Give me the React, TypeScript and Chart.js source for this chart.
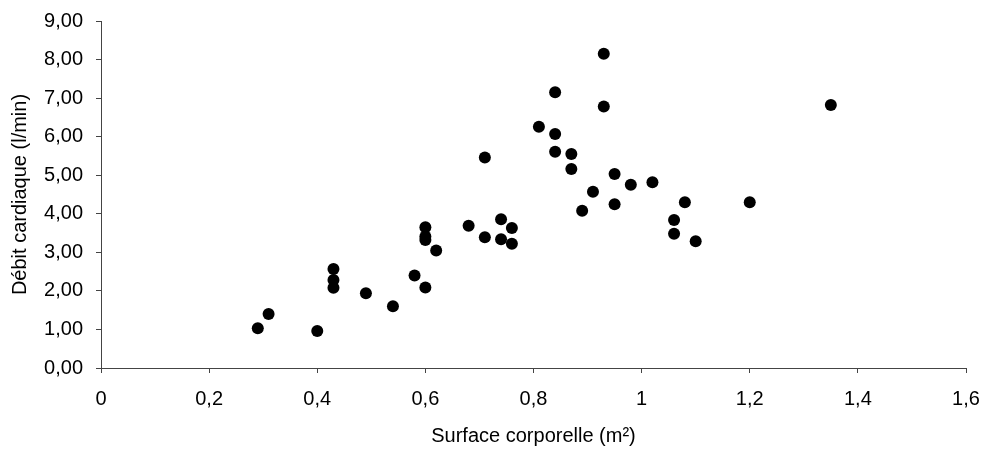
import React, { useEffect, useRef } from "react";
import { Chart, registerables } from "chart.js";

Chart.register(...registerables);

const surface: number[] = [
  0.29, 0.31, 0.40, 0.43, 0.43, 0.43, 0.49, 0.54, 0.58, 0.60, 0.60, 0.60, 0.60, 0.62,
  0.68, 0.71, 0.71, 0.74, 0.74, 0.76, 0.76, 0.81, 0.84, 0.84, 0.84, 0.87, 0.87, 0.89,
  0.91, 0.93, 0.93, 0.95, 0.95, 0.98, 1.02, 1.06, 1.06, 1.08, 1.10, 1.20, 1.35,
];
const debit: number[] = [
  1.03, 1.40, 0.96, 2.57, 2.28, 2.08, 1.94, 1.60, 2.40, 2.09, 3.65, 3.41, 3.32, 3.05,
  3.69, 3.39, 5.46, 3.86, 3.34, 3.63, 3.22, 6.26, 7.15, 6.07, 5.61, 5.55, 5.16, 4.08,
  4.57, 8.15, 6.78, 5.03, 4.25, 4.75, 4.82, 3.84, 3.48, 4.30, 3.29, 4.30, 6.82,
];
const xTitle = "Surface corporelle (m²)";
const yTitle = "Débit cardiaque (l/min)";

const FONT = "'Liberation Sans', Arial, sans-serif";

export default function App() {
  const ref = useRef<HTMLCanvasElement | null>(null);
  useEffect(() => {
    document.body.style.margin = "0";
    const ctx = ref.current!;
    const chart = new Chart(ctx, {
      type: "scatter",
      data: {
        datasets: [
          {
            data: surface.map((x, i) => ({ x, y: debit[i] })),
            backgroundColor: "#000",
            borderColor: "#000",
            pointStyle: "circle",
            pointRadius: 6,
            pointHoverRadius: 6,
            borderWidth: 0,
          },
        ],
      },
      options: {
        animation: false,
        responsive: false,
        maintainAspectRatio: false,
        layout: { padding: { top: 21, right: 15, left: 0, bottom: 0 } },
        plugins: { legend: { display: false }, tooltip: { enabled: false } },
        scales: {
          x: {
            type: "linear",
            min: 0,
            max: 1.6,
            afterFit: (s: any) => {
              s.height = 82;
              s.paddingLeft = 0;
              s.paddingRight = 0;
            },
            ticks: {
              stepSize: 0.2,
              color: "#000",
              padding: 14,
              font: { family: FONT, size: 20 },
              callback: (v: any) => String(Math.round(Number(v) * 10) / 10).replace(".", ","),
            },
            grid: { drawOnChartArea: false, drawTicks: true, tickLength: 5, color: "#444" },
            border: { display: true, color: "#444", width: 1 },
            title: {
              display: true,
              text: xTitle,
              color: "#000",
              font: { family: FONT, size: 20 },
              padding: { top: 0, bottom: 2 },
            },
          },
          y: {
            type: "linear",
            min: 0,
            max: 9,
            afterFit: (s: any) => {
              s.width = 101;
              s.paddingTop = 0;
              s.paddingBottom = 0;
            },
            ticks: {
              stepSize: 1,
              color: "#000",
              padding: 13,
              font: { family: FONT, size: 20 },
              callback: (v: any) => Number(v).toFixed(2).replace(".", ","),
            },
            grid: { drawOnChartArea: false, drawTicks: true, tickLength: 5, color: "#444" },
            border: { display: true, color: "#444", width: 1 },
            title: {
              display: true,
              text: yTitle,
              color: "#000",
              font: { family: FONT, size: 20 },
              padding: { top: 8, bottom: 0 },
            },
          },
        },
      },
    });
    return () => chart.destroy();
  }, []);
  return (
    <div style={{ width: 981, height: 450, background: "#fff" }}>
      <canvas ref={ref} width={981} height={450} style={{ display: "block" }} />
    </div>
  );
}
